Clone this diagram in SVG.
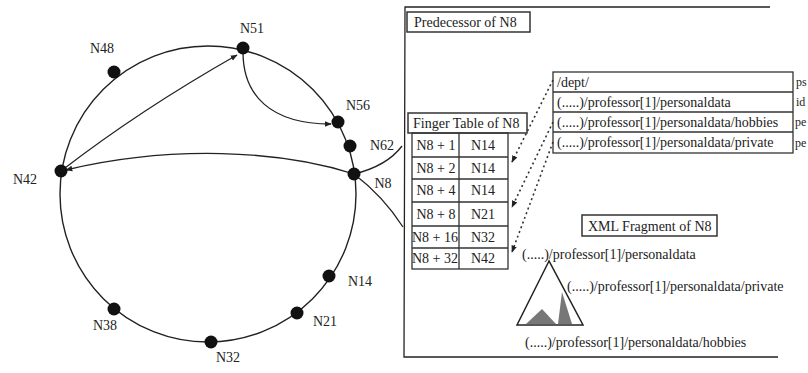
<svg xmlns="http://www.w3.org/2000/svg" width="808" height="373" viewBox="0 0 808 373">
<defs>
<marker id="ah" viewBox="0 0 10 10" refX="9" refY="5" markerWidth="7" markerHeight="7" orient="auto" markerUnits="userSpaceOnUse">
<path d="M0,1 L10,5 L0,9 Z" fill="#222"/>
</marker>
</defs>
<style>
text{font-family:"Liberation Serif","DejaVu Serif",serif;fill:#222;font-size:14px}
.m{text-anchor:middle}
.s{font-size:12px}
.ring{fill:none;stroke:#222;stroke-width:1.4}
.dot{fill:#111}
.ln{fill:none;stroke:#222;stroke-width:1.3}
.box{fill:#fff;stroke:#333;stroke-width:1.5}
.cell{fill:none;stroke:#333;stroke-width:1.3}
.dash{fill:none;stroke:#333;stroke-width:1.6;stroke-dasharray:2 3}
</style>
<rect width="808" height="373" fill="#fff"/>
<circle class="ring" cx="208" cy="194" r="148"/>
<g id="connectors">
<path class="ln" d="M61,171 Q140,110 237,55" marker-end="url(#ah)"/>
<path class="ln" d="M243,52 C243,95 270,124 331,124" marker-end="url(#ah)"/>
<path class="ln" d="M354,174 C280,150 170,145 66,170" marker-end="url(#ah)"/>
<path class="ln" d="M354,174 Q387,166 402,146"/>
<path class="ln" d="M354,174 Q383,196 403,227"/>
<path class="dash" d="M553,80 L512,162" marker-end="url(#ah)"/>
<path class="dash" d="M553,122 L512,207" marker-end="url(#ah)"/>
<path class="dash" d="M553,142 L512,252" marker-end="url(#ah)"/>
</g>
<g id="N48"><circle class="dot" cx="114" cy="72" r="6.5"/><text class="m" x="102" y="53">N48</text></g>
<g id="N51"><circle class="dot" cx="243" cy="48" r="6.5"/><text class="m" x="252" y="33">N51</text></g>
<g id="N56"><circle class="dot" cx="338" cy="122" r="6.5"/><text class="m" x="358" y="110">N56</text></g>
<g id="N62"><circle class="dot" cx="350" cy="146" r="6.5"/><text class="m" x="382" y="150">N62</text></g>
<g id="N8"><circle class="dot" cx="354" cy="174" r="6.5"/><text class="m" x="383" y="188">N8</text></g>
<g id="N14"><circle class="dot" cx="329" cy="276" r="6.5"/><text class="m" x="360" y="286">N14</text></g>
<g id="N21"><circle class="dot" cx="297" cy="313" r="6.5"/><text class="m" x="325" y="326">N21</text></g>
<g id="N32"><circle class="dot" cx="211" cy="342" r="6.5"/><text class="m" x="228" y="362">N32</text></g>
<g id="N38"><circle class="dot" cx="114" cy="309" r="6.5"/><text class="m" x="105" y="330">N38</text></g>
<g id="N42"><circle class="dot" cx="61" cy="171" r="6.5"/><text class="m" x="25" y="184">N42</text></g>
<g id="panel">
<path class="ln" d="M770,7 L405,7 L404,357 L778,357"/>
</g>
<g id="predecessor">
<rect class="box" x="407" y="12" width="123" height="20"/>
<text x="414" y="27">Predecessor of N8</text>
</g>
<g id="finger-table">
<rect class="box" x="408" y="113" width="119" height="20"/>
<text x="413" y="128">Finger Table of N8</text>
<rect class="cell" x="412" y="133" width="96" height="136"/>
<path class="cell" d="M459,133 V269 M412,157 H508 M412,179 H508 M412,202 H508 M412,226 H508 M412,248 H508"/>
<text class="m" x="436" y="150">N8 + 1</text><text class="m" x="483" y="150">N14</text>
<text class="m" x="436" y="173">N8 + 2</text><text class="m" x="483" y="173">N14</text>
<text class="m" x="436" y="195">N8 + 4</text><text class="m" x="483" y="195">N14</text>
<text class="m" x="436" y="219">N8 + 8</text><text class="m" x="483" y="219">N21</text>
<text class="m" x="435" y="242">N8 + 16</text><text class="m" x="483" y="242">N32</text>
<text class="m" x="435" y="263">N8 + 32</text><text class="m" x="483" y="263">N42</text>
</g>
<g id="index-table">
<rect class="cell" x="553" y="72" width="240" height="81"/>
<path class="cell" d="M553,92 H793 M553,112 H793 M553,132 H793"/>
<text x="557" y="87">/dept/</text>
<text x="557" y="107">(.....)/professor[1]/personaldata</text>
<text x="557" y="127">(.....)/professor[1]/personaldata/hobbies</text>
<text x="557" y="147">(.....)/professor[1]/personaldata/private</text>
<text class="s" x="796" y="86">ps</text>
<text class="s" x="796" y="106">id</text>
<text class="s" x="795" y="126">pe</text>
<text class="s" x="795" y="147">pe</text>
</g>
<g id="xml-fragment">
<rect class="box" x="582" y="215" width="135" height="21"/>
<text x="588" y="231">XML Fragment of N8</text>
<text x="522" y="259">(.....)/professor[1]/personaldata</text>
<text x="567" y="291">(.....)/professor[1]/personaldata/private</text>
<text x="525" y="347">(.....)/professor[1]/personaldata/hobbies</text>
<polygon points="549,261 517,325 583,325" fill="#fff" stroke="#222" stroke-width="1.5"/>
<polygon points="526,324 542,309 556,324" fill="#777"/>
<polygon points="558,324 562,292 572,324" fill="#777"/>
</g>
</svg>
